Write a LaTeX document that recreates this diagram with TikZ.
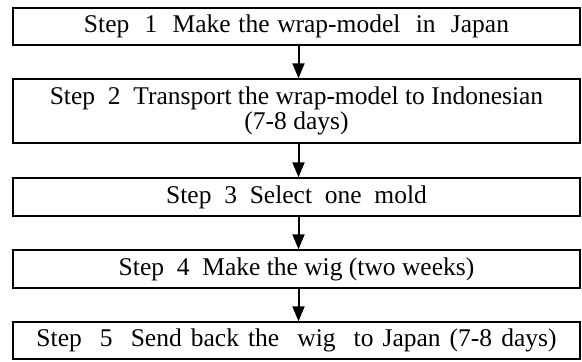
\documentclass[tikz,border=0pt]{standalone}
\usepackage{fontspec}
\setmainfont{Liberation Serif}
\usetikzlibrary{arrows.meta}
\tikzset{stepbox/.style={draw, line width=1.5bp, minimum width=567bp, inner sep=0pt, align=center, font=\fontsize{25.5bp}{25bp}\selectfont},
         steparrow/.style={line width=2bp, -{Triangle[length=15bp,width=12bp]}}}

\begin{document}
\begin{tikzpicture}[x=1bp,y=-1bp]
                    \useasboundingbox (0,0) rectangle (582,361);
                    \node[stepbox,minimum height=37bp] (s1) at (296.5,26.5) {\makebox[425bp][s]{Step~~1~~Make the wrap-model~~in~~Japan}};
                    \node[stepbox,minimum height=64bp] (s2) at (296.5,111) {Step~~2~~Transport the wrap-model to Indonesian\\(7-8 days)};
                    \node[stepbox,minimum height=38bp] (s3) at (296.5,197) {Step~~3~~Select~~one~~mold};
                    \node[stepbox,minimum height=38bp] (s4) at (296.5,269) {Step~~4~~Make the wig (two weeks)};
                    \node[stepbox,minimum height=37bp] (s5) at (296.5,340.5) {\makebox[520bp][s]{Step~~5~~Send back the~~wig~~to Japan (7-8 days)}};
                    \foreach \a/\b in {s1/s2,s2/s3,s3/s4,s4/s5}{
                        \draw[steparrow] ([xshift=2bp]\a.south) -- ([xshift=2bp]\b.north);
                        }
                \end{tikzpicture}
\end{document}
